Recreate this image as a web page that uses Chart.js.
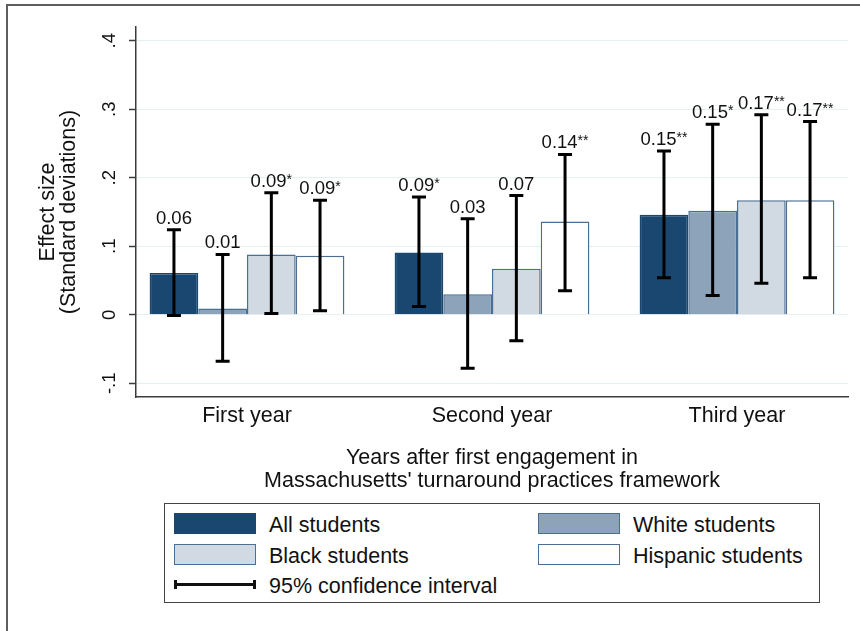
<!DOCTYPE html>
<html>
<head>
<meta charset="utf-8">
<script src="https://cdn.jsdelivr.net/npm/chart.js@4.4.1/dist/chart.umd.min.js"></script>
<style>
  body { margin: 0; background: #fff; overflow: hidden; font-family: 'Liberation Sans', Arial, sans-serif; }
  #wrap { position: relative; width: 860px; height: 631px; overflow: hidden; background: #fff; }
  #frame { position: absolute; left: 6px; top: 4px; width: 900px; height: 700px;
           border-top: 2px solid #5e5e5e; border-left: 2px solid #5e5e5e; }
  #chart { position: absolute; left: 0; top: 0; }
  #legend-box { position: absolute; left: 164px; top: 503px; width: 656px; height: 100px;
                box-sizing: border-box; border: 1.5px solid #444; }
  .sw { position: absolute; width: 82px; height: 21px; box-sizing: border-box; border: 1.5px solid; }
  .lt { position: absolute; font-size: 21.5px; line-height: 21px; color: #111; white-space: nowrap; }
  .ci { position: absolute; background: #111; }
</style>
</head>
<body>
<div id="wrap">
  <div id="frame"></div>
  <canvas id="chart" width="860" height="493"></canvas>
  <div id="legend-box"></div>
  <div id="legend"></div>
</div>
<script>
  // categories (x) and y axis ticks
  const categories  = ['First year', 'Second year', 'Third year'];
  const yTickValues = [-0.1, 0, 0.1, 0.2, 0.3, 0.4];
  const yTickLabels = ['-.1', '0', '.1', '.2', '.3', '.4'];

  // effect sizes + 95% CI
  const allStudents      = [0.061, 0.091, 0.146];
  const allLow           = [-0.001, 0.012, 0.054];
  const allHigh          = [0.124, 0.172, 0.239];
  const allText          = ['0.06', '0.09*', '0.15**'];

  const whiteStudents    = [0.009, 0.030, 0.152];
  const whiteLow         = [-0.068, -0.078, 0.028];
  const whiteHigh        = [0.088, 0.140, 0.278];
  const whiteText        = ['0.01', '0.03', '0.15*'];

  const blackStudents    = [0.088, 0.067, 0.167];
  const blackLow         = [0.002, -0.038, 0.046];
  const blackHigh        = [0.178, 0.174, 0.292];
  const blackText        = ['0.09*', '0.07', '0.17**'];

  const hispanicStudents = [0.086, 0.136, 0.167];
  const hispanicLow      = [0.006, 0.035, 0.054];
  const hispanicHigh     = [0.167, 0.234, 0.282];
  const hispanicText     = ['0.09*', '0.14**', '0.17**'];

  const FONT = "'Liberation Sans', Arial, sans-serif";
  const AXIS = '#3c3c3c';

  const series = [
    { name: 'All students',      values: allStudents,      low: allLow,      high: allHigh,      text: allText,      fill: '#1a476f', line: '#1a476f' },
    { name: 'White students',    values: whiteStudents,    low: whiteLow,    high: whiteHigh,    text: whiteText,    fill: '#8da3b9', line: '#4a6f92' },
    { name: 'Black students',    values: blackStudents,    low: blackLow,    high: blackHigh,    text: blackText,    fill: '#d1dae2', line: '#4a6f92' },
    { name: 'Hispanic students', values: hispanicStudents, low: hispanicLow, high: hispanicHigh, text: hispanicText, fill: '#ffffff', line: '#4a6f92' }
  ];

  // error bars + value labels on top of the bars
  const ciPlugin = {
    id: 'ciBars',
    afterDatasetsDraw(chart) {
      const ctx = chart.ctx, y = chart.scales.y;
      ctx.save();
      series.forEach((s, i) => {
        chart.getDatasetMeta(i).data.forEach((bar, j) => {
          const top = y.getPixelForValue(s.high[j]);
          const bot = y.getPixelForValue(s.low[j]);
          ctx.strokeStyle = '#000';
          ctx.lineWidth = 3;
          ctx.beginPath();
          ctx.moveTo(bar.x, top); ctx.lineTo(bar.x, bot);
          ctx.moveTo(bar.x - 7, top); ctx.lineTo(bar.x + 7, top);
          ctx.moveTo(bar.x - 7, bot); ctx.lineTo(bar.x + 7, bot);
          ctx.stroke();

          const m = s.text[j].match(/^([\d.]+)(\**)$/);
          ctx.font = '18.5px ' + FONT;
          const w1 = ctx.measureText(m[1]).width;
          ctx.font = '14px ' + FONT;
          const w2 = ctx.measureText(m[2]).width;
          const x0 = bar.x - (w1 + w2) / 2;
          ctx.fillStyle = '#111';
          ctx.textBaseline = 'alphabetic';
          ctx.textAlign = 'left';
          ctx.font = '18.5px ' + FONT;
          ctx.fillText(m[1], x0, top - 6);
          ctx.font = '14px ' + FONT;
          ctx.fillText(m[2], x0 + w1, top - 9);
        });
      });
      ctx.restore();
    }
  };

  Chart.defaults.font.family = FONT;
  Chart.defaults.color = '#111';

  new Chart(document.getElementById('chart'), {
    type: 'bar',
    data: {
      datasets: series.map(s => ({
        label: s.name,
        data: categories.map((c, i) => ({ x: i + 1, y: s.values[i] })),
        backgroundColor: s.fill,
        borderColor: s.line,
        borderWidth: 1.5,
        categoryPercentage: 0.795,
        barPercentage: 1
      }))
    },
    options: {
      responsive: false,
      devicePixelRatio: 1,
      animation: false,
      layout: { padding: { top: 27, right: 12, bottom: 0, left: 0 } },
      plugins: { legend: { display: false }, tooltip: { enabled: false } },
      scales: {
        x: {
          type: 'linear', min: 0.547, max: 3.453, offset: false,
          grid: { display: false, drawTicks: false },
          border: { display: true, color: AXIS, width: 1.5 },
          ticks: { padding: 6, font: { size: 21.5 }, maxRotation: 0, minRotation: 0,
                   callback: (v, i) => categories[i] },
          afterBuildTicks: s => { s.ticks = categories.map((c, i) => ({ value: i + 1 })); },
          title: { display: true, font: { size: 21.5, lineHeight: 1.07 }, padding: { top: 0, bottom: 0 },
                   text: ['Years after first engagement in', "Massachusetts' turnaround practices framework"] },
          afterFit: s => { s.height = 96; }
        },
        y: {
          min: -0.12, max: 0.42,
          grid: { color: '#e6eff1', lineWidth: 1, tickColor: AXIS, tickLength: 7, tickWidth: 1.5 },
          border: { color: AXIS, width: 1.5 },
          ticks: { minRotation: 90, maxRotation: 90, crossAlign: 'center', padding: 8, font: { size: 18.5 },
                   callback: (v, i) => yTickLabels[i] },
          afterBuildTicks: s => { s.ticks = yTickValues.map(v => ({ value: v })); },
          title: { display: true, font: { size: 21.5, lineHeight: 1 }, padding: { top: 37, bottom: 0 },
                   text: ['Effect size', '(Standard deviations)'] },
          afterFit: s => { s.width = 136; }
        }
      }
    },
    plugins: [ciPlugin]
  });

  // legend (HTML, two columns + CI row)
  function buildLegend() {
    const el = document.getElementById('legend');
    const cols = [174, 538], rows = [513, 544];
    let html = '';
    series.forEach((s, i) => {
      const left = cols[i % 2], top = rows[Math.floor(i / 2)];
      html += `<div class="sw" style="left:${left}px;top:${top}px;background:${s.fill};border-color:${s.line}"></div>`;
      html += `<div class="lt" style="left:${left + 95}px;top:${top + 1.5}px">${s.name}</div>`;
    });
    html += `<div class="ci" style="left:174px;top:582.5px;width:82px;height:3px"></div>`;
    html += `<div class="ci" style="left:174px;top:579.5px;width:3px;height:9px"></div>`;
    html += `<div class="ci" style="left:253px;top:579.5px;width:3px;height:9px"></div>`;
    html += `<div class="lt" style="left:269px;top:575.5px">95% confidence interval</div>`;
    el.innerHTML = html;
  }
  buildLegend();
</script>
</body>
</html>
